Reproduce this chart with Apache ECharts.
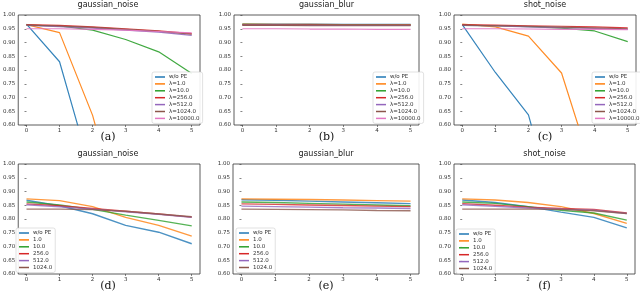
<!DOCTYPE html>
<html><head><meta charset="utf-8">
<script src="https://cdn.jsdelivr.net/npm/echarts@6/dist/echarts.min.js"></script>
<style>html,body{margin:0;padding:0;background:#fff}#c{width:640px;height:293px}</style>
</head><body><div id="c"></div>
<script>
const xVals = [0, 1, 2, 3, 4, 5];
const yTicks = [0.60, 0.65, 0.70, 0.75, 0.80, 0.85, 0.90, 0.95, 1.00];
const topNames = ['w/o PE', 'λ=1.0', 'λ=10.0', 'λ=256.0', 'λ=512.0', 'λ=1024.0', 'λ=10000.0'];
const botNames = ['w/o PE', '1.0', '10.0', '256.0', '512.0', '1024.0'];
const titles = ['gaussian_noise', 'gaussian_blur', 'shot_noise', 'gaussian_noise', 'gaussian_blur', 'shot_noise'];
const captions = ['(a)', '(b)', '(c)', '(d)', '(e)', '(f)'];

// (a) gaussian_noise, top row
const aNoPE  = [0.967, 0.830, 0.410, 0.200, 0.150, 0.100];
const a1     = [0.965, 0.936, 0.635, 0.200, 0.150, 0.100];
const a10    = [0.963, 0.960, 0.945, 0.911, 0.866, 0.787];
const a256   = [0.965, 0.962, 0.957, 0.950, 0.942, 0.932];
const a512   = [0.962, 0.958, 0.952, 0.945, 0.938, 0.926];
const a1024  = [0.963, 0.960, 0.955, 0.948, 0.941, 0.930];
const a10000 = [0.950, 0.950, 0.948, 0.945, 0.940, 0.935];
// (b) gaussian_blur, top row
const bNoPE  = [0.967, 0.967, 0.967, 0.966, 0.966, 0.966];
const b1     = [0.967, 0.966, 0.966, 0.965, 0.965, 0.965];
const b10    = [0.966, 0.965, 0.965, 0.964, 0.964, 0.963];
const b256   = [0.964, 0.964, 0.964, 0.963, 0.963, 0.963];
const b512   = [0.963, 0.963, 0.962, 0.962, 0.962, 0.962];
const b1024  = [0.962, 0.962, 0.961, 0.961, 0.961, 0.961];
const b10000 = [0.950, 0.950, 0.949, 0.949, 0.948, 0.948];
// (c) shot_noise, top row
const cNoPE  = [0.965, 0.791, 0.637, 0.200, 0.150, 0.100];
const c1     = [0.967, 0.957, 0.923, 0.789, 0.410, 0.200];
const c10    = [0.962, 0.961, 0.958, 0.952, 0.942, 0.903];
const c256   = [0.965, 0.963, 0.961, 0.959, 0.957, 0.953];
const c512   = [0.962, 0.960, 0.957, 0.954, 0.951, 0.948];
const c1024  = [0.963, 0.961, 0.959, 0.956, 0.953, 0.950];
const c10000 = [0.950, 0.950, 0.949, 0.948, 0.948, 0.947];
// (d) gaussian_noise, bottom row
const dNoPE = [0.868, 0.848, 0.819, 0.777, 0.752, 0.710];
const d1    = [0.873, 0.867, 0.845, 0.806, 0.777, 0.738];
const d10   = [0.862, 0.851, 0.835, 0.814, 0.795, 0.775];
const d256  = [0.855, 0.848, 0.838, 0.828, 0.818, 0.807];
const d512  = [0.852, 0.844, 0.836, 0.826, 0.817, 0.806];
const d1024 = [0.836, 0.836, 0.834, 0.828, 0.818, 0.808];
// (e) gaussian_blur, bottom row
const eNoPE = [0.870, 0.868, 0.865, 0.862, 0.859, 0.856];
const e1    = [0.873, 0.872, 0.871, 0.869, 0.867, 0.865];
const e10   = [0.862, 0.860, 0.857, 0.854, 0.851, 0.848];
const e256  = [0.855, 0.853, 0.851, 0.849, 0.847, 0.845];
const e512  = [0.847, 0.845, 0.843, 0.841, 0.840, 0.838];
const e1024 = [0.836, 0.835, 0.834, 0.833, 0.831, 0.830];
// (f) shot_noise, bottom row
const fNoPE = [0.869, 0.860, 0.845, 0.825, 0.806, 0.768];
const f1    = [0.873, 0.869, 0.860, 0.845, 0.820, 0.784];
const f10   = [0.862, 0.857, 0.845, 0.832, 0.822, 0.796];
const f256  = [0.856, 0.850, 0.843, 0.838, 0.835, 0.822];
const f512  = [0.852, 0.846, 0.840, 0.836, 0.832, 0.820];
const f1024 = [0.836, 0.836, 0.836, 0.835, 0.830, 0.820];

const panelData = [
  [aNoPE, a1, a10, a256, a512, a1024, a10000],
  [bNoPE, b1, b10, b256, b512, b1024, b10000],
  [cNoPE, c1, c10, c256, c512, c1024, c10000],
  [dNoPE, d1, d10, d256, d512, d1024],
  [eNoPE, e1, e10, e256, e512, e1024],
  [fNoPE, f1, f10, f256, f512, f1024]
];

const colors = ['#1f77b4', '#ff7f0e', '#2ca02c', '#d62728', '#9467bd', '#8c564b', '#e377c2'];
const FONT = 'DejaVu Sans';
// plot rectangles [left, top, right, bottom]
const rects = [
  [16, 15, 200, 125], [234, 15, 419, 125], [454, 15, 636, 125],
  [16, 164, 200, 274], [233, 164, 419, 274], [454, 164, 635, 274]
];
const legendPos = [[152, 72], [373, 72], [592, 72], [16, 228], [236, 228], [456, 229]];

const grid = [], xAxis = [], yAxis = [], series = [], legend = [], graphic = [];
rects.forEach((r, i) => {
  grid.push({left: r[0], top: r[1], width: r[2] - r[0], height: r[3] - r[1],
    show: true, borderColor: '#333', borderWidth: 0.8, backgroundColor: '#fff'});
  xAxis.push({type: 'value', gridIndex: i, min: -0.25, max: 5.25,
    axisLine: {show: false}, splitLine: {show: false},
    axisTick: {show: true, inside: false, length: 2, customValues: xVals, lineStyle: {color: '#333', width: 0.6}},
    axisLabel: {customValues: xVals, fontSize: 5.5, color: '#333', margin: 3, fontFamily: FONT}});
  yAxis.push({type: 'value', gridIndex: i, min: 0.6, max: 1.0, interval: 0.05,
    axisLine: {show: false}, splitLine: {show: false},
    axisTick: {show: true, inside: false, length: 2, lineStyle: {color: '#333', width: 0.6}},
    axisLabel: {fontSize: 5.5, color: '#333', margin: 3, fontFamily: FONT,
      formatter: v => v.toFixed(2)}});
  const names = i < 3 ? topNames : botNames;
  panelData[i].forEach((arr, k) => {
    series.push({type: 'line', name: names[k], xAxisIndex: i, yAxisIndex: i,
      data: arr.map((v, j) => [xVals[j], v]), showSymbol: false, symbol: 'none',
      clip: true, animation: false, color: colors[k],
      lineStyle: {width: i < 3 ? 1.2 : 1.4, color: colors[k], opacity: i < 3 ? 0.9 : 0.8}});
  });
  legend.push({orient: 'vertical', left: legendPos[i][0], top: legendPos[i][1],
    data: names, icon: 'rect', itemWidth: 10, itemHeight: 1.5, itemGap: 0.9,
    padding: [2, 3, 2, 3], backgroundColor: 'rgba(255,255,255,0.9)', borderColor: '#ccc',
    borderWidth: 0.6, borderRadius: 2, selectedMode: false,
    textStyle: {fontSize: 5.5, color: '#333', fontFamily: FONT, padding: [0, 0, 0, -1]}});
  const cx = (r[0] + r[2]) / 2;
  graphic.push({type: 'text', x: cx, y: r[1] - 10, style: {text: titles[i], fontSize: 8,
    fontFamily: FONT, fill: '#222', textAlign: 'center', textVerticalAlign: 'middle'}});
  graphic.push({type: 'text', x: cx, y: r[3] + 12, style: {text: captions[i], fontSize: 11,
    fontFamily: 'DejaVu Serif', fill: '#111', textAlign: 'center', textVerticalAlign: 'middle'}});
});

const chart = echarts.init(document.getElementById('c'), null, {renderer: 'canvas'});
chart.setOption({animation: false, grid, xAxis, yAxis, series, legend, graphic});
</script></body></html>
